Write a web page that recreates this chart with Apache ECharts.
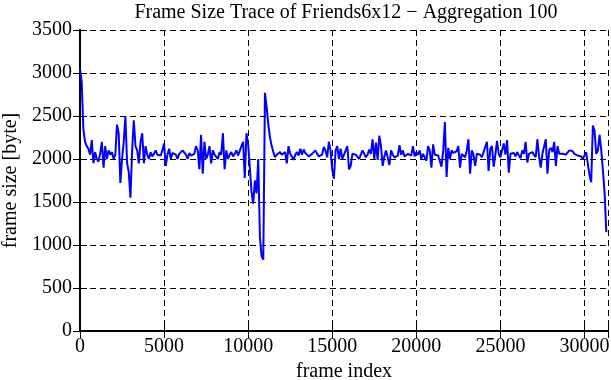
<!DOCTYPE html>
<html>
<head>
<meta charset="utf-8">
<script src="https://cdn.jsdelivr.net/npm/echarts@6/dist/echarts.min.js"></script>
<style>
html,body{margin:0;padding:0;background:#fff;}
#chart{width:611px;height:380px;}
</style>
</head>
<body>
<div id="chart"></div>
<script>
// Aggregation step (frames per point)
const AGG = 100;
// X axis tick labels
const xTicks = [0, 5000, 10000, 15000, 20000, 25000, 30000];
// Y axis tick labels
const yTicks = [0, 500, 1000, 1500, 2000, 2500, 3000, 3500];
// Aggregated frame sizes (bytes), one per 100 frames
const sizes0 = [3050,2900,2350,2200,2150,2120,2050,2220,1950,2080,2000,1970,2060,2200,1900,2150,2000,2100,2050,2080,
2000,2050,2400,2300,1720,2000,2200,2500,1950,1850,1550,2100,2450,2150,2100,1950,2200,2300,1950,2150];
const sizes1 = [2050,2000,2080,2030,2060,2100,2050,2070,2040,2100,2180,1920,2050,2120,2000,2070,2090,2050,2000,2060,
2040,2100,2110,2050,2000,2070,2040,2020,2060,2150,2100,1880,2280,1830,2200,2000,2050,2150,1950,2100];
const sizes2 = [2050,2050,2000,2080,2050,2300,1880,2100,2000,2050,2080,2030,2060,2100,2040,2060,2150,2200,1780,2300,
2170,1900,1620,1480,1750,1600,2000,1090,870,830,2770,2600,2400,2250,2150,2080,2020,2050,2030,2080];
const sizes3 = [2050,2030,2080,1950,2150,2060,2080,1990,2050,2080,2040,2120,2050,2110,2070,2060,2030,2020,2060,2080,
2100,2060,2030,2010,2050,2140,2100,2020,2200,2100,1880,1770,2100,2150,2000,2120,2000,1980,2100,2150];
const sizes4 = [1880,1920,2060,2080,2050,2070,2000,2050,2100,2060,2020,2050,2110,2060,2230,2000,2190,1990,2270,2150,
1920,2030,2100,2120,1930,2100,2050,2020,2000,2040,2160,2050,2100,2030,2040,2060,2080,2040,2150,2030];
const sizes5 = [2080,2050,2100,2000,2060,2080,1980,2150,2100,1900,2170,2050,2060,2040,2060,1910,2100,2430,1790,2130,
2000,2100,2070,2050,2090,2150,1900,2060,2050,2020,2100,2230,1830,2100,2050,1920,2060,2040,2050,2020];
const sizes6 = [2080,2100,2200,1860,2120,2150,1910,2050,2210,2060,2020,2000,2180,2050,2220,1840,2060,2040,2070,2030,
2080,2040,2010,2100,2060,2200,1960,2060,2040,2080,2050,2020,2230,2030,1900,2060,2080,2230,1830,2100];
const sizes7 = [2130,2080,2200,1920,2150,2060,2050,2060,2060,2050,2070,2100,2110,2090,2060,2070,2040,2050,2030,2000,
2020,2080,2060,1810,1730,2390,2330,2060,2100,2280,2100,1860,1600,1150];

const sizes = [].concat(sizes0, sizes1, sizes2, sizes3, sizes4, sizes5, sizes6, sizes7);
const seriesData = sizes.map((v, i) => [i * AGG, v]);

const FONT = 'Liberation Serif';
const FS = 20;
const chart = echarts.init(document.getElementById('chart'), null, {renderer: 'canvas'});
const xMin = xTicks[0], xMax = 31400, xInt = xTicks[1] - xTicks[0];
const yMin = yTicks[0], yMax = yTicks[yTicks.length - 1], yInt = yTicks[1] - yTicks[0];

chart.setOption({
  animation: false,
  backgroundColor: '#fff',
  title: {
    text: 'Frame Size Trace of Friends6x12 \u2212 Aggregation 100',
    left: 341, top: -2, textAlign: 'center',
    textStyle: {fontFamily: FONT, fontSize: FS, fontWeight: 'normal', color: '#000'}
  },
  grid: {left: 80, right: 3, top: 30, bottom: 49, containLabel: false, outerBoundsMode: 'none'},
  xAxis: [{
    type: 'value', min: xMin, max: xMax, interval: xInt, position: 'bottom',
    name: 'frame index', nameLocation: 'middle', nameGap: 29,
    nameTextStyle: {fontFamily: FONT, fontSize: FS, color: '#000'},
    axisLine: {show: true, lineStyle: {color: '#000', width: 2}},
    axisTick: {show: true, inside: true, length: 7, lineStyle: {color: '#000', width: 1}},
    axisLabel: {fontFamily: FONT, fontSize: FS, color: '#000', margin: 6,
      formatter: v => (xTicks.indexOf(v) >= 0 ? String(v) : '')},
    splitLine: {show: true, lineStyle: {color: '#000', width: 1, type: [6, 4]}}
  }, {
    type: 'value', min: xMin, max: xMax, interval: xInt, position: 'top',
    axisLine: {show: true, lineStyle: {color: '#000', width: 2}},
    axisTick: {show: true, inside: true, length: 7, lineStyle: {color: '#000', width: 1}},
    axisLabel: {show: false}, splitLine: {show: false}
  }],
  yAxis: [{
    type: 'value', min: yMin, max: yMax, interval: yInt, position: 'left',
    name: 'frame size [byte]', nameLocation: 'middle', nameGap: 57, nameRotate: 90,
    nameTextStyle: {fontFamily: FONT, fontSize: FS, color: '#000'},
    axisLine: {show: true, lineStyle: {color: '#000', width: 2}},
    axisTick: {show: true, inside: true, length: 7, lineStyle: {color: '#000', width: 1}},
    axisLabel: {fontFamily: FONT, fontSize: FS, color: '#000', margin: 8,
      formatter: v => (yTicks.indexOf(v) >= 0 ? String(v) : '')},
    splitLine: {show: true, lineStyle: {color: '#000', width: 1, type: [6, 4]}}
  }, {
    type: 'value', min: yMin, max: yMax, interval: yInt, position: 'right',
    axisLine: {show: true, lineStyle: {color: '#000', width: 2}},
    axisTick: {show: true, inside: true, length: 7, lineStyle: {color: '#000', width: 1}},
    axisLabel: {show: false}, splitLine: {show: false}
  }],
  series: [{
    type: 'line', xAxisIndex: 0, yAxisIndex: 0,
    data: seriesData, showSymbol: false, symbol: 'none', sampling: null,
    lineStyle: {color: '#0000ff', width: 2}, itemStyle: {color: '#0000ff'},
    z: 3
  }]
});
</script>
</body>
</html>
